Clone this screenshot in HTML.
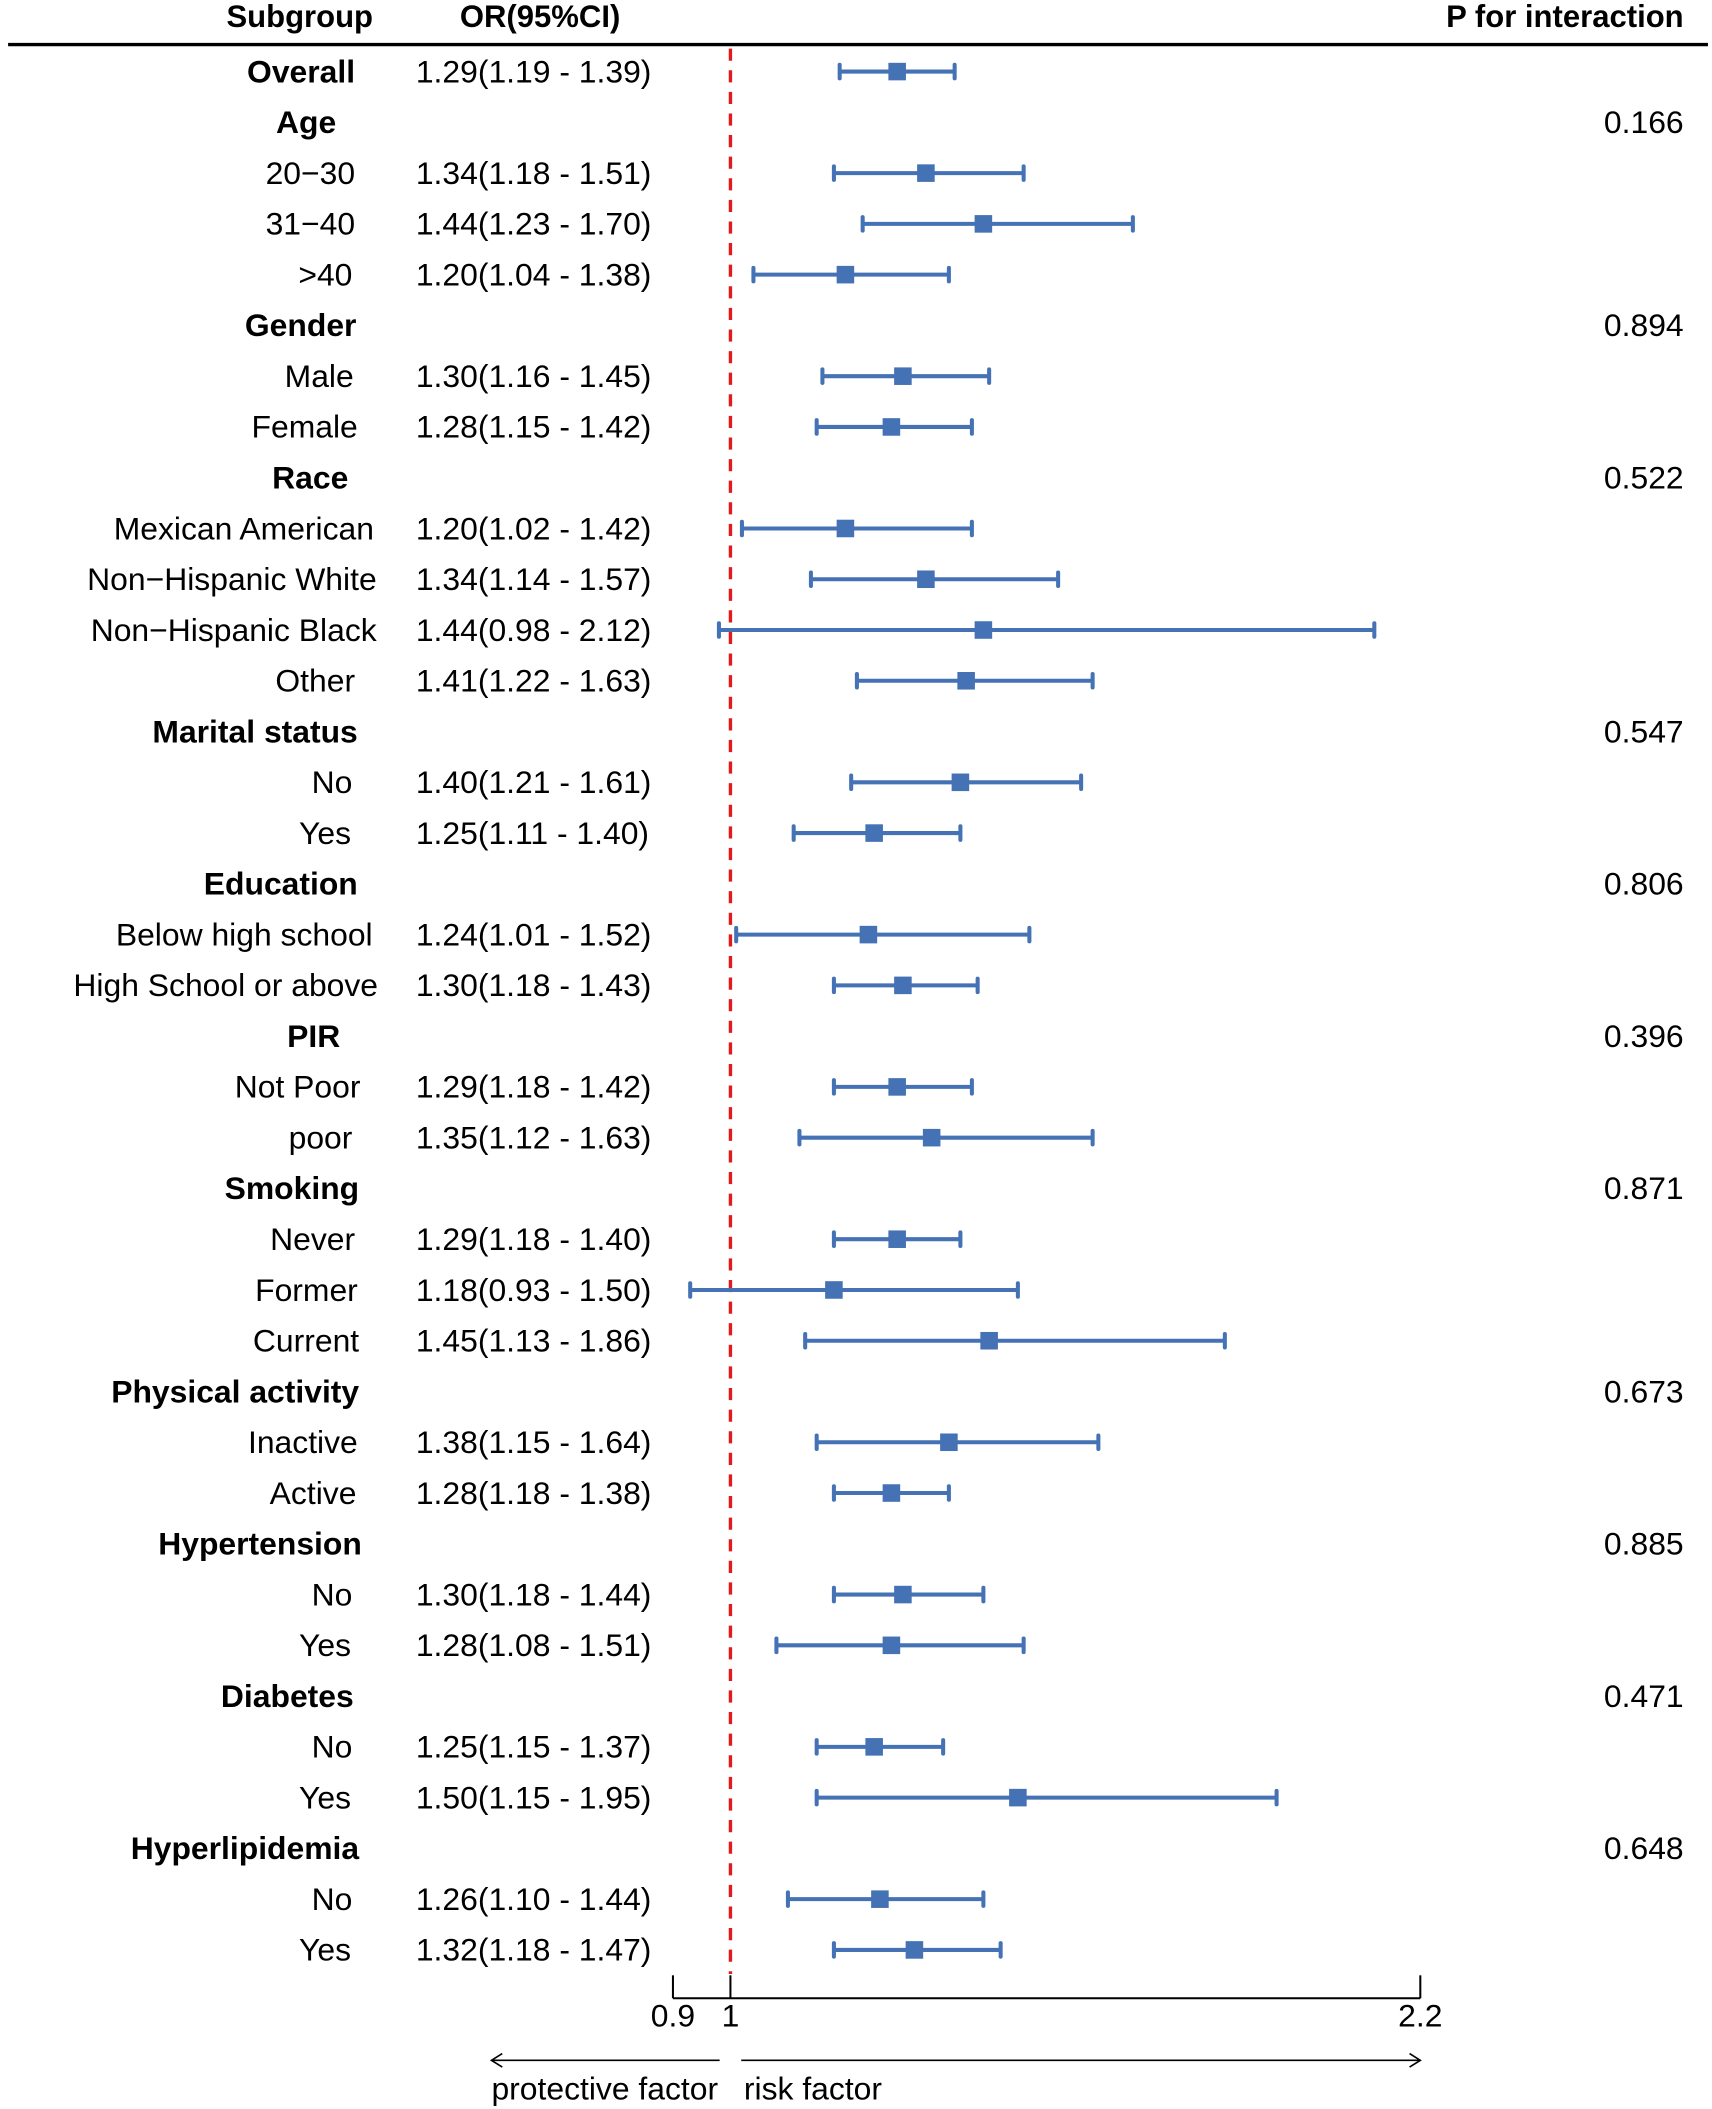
<!DOCTYPE html>
<html><head><meta charset="utf-8"><style>
html,body{margin:0;padding:0;background:#fff;}
svg{display:block;font-family:"Liberation Sans",Arial,sans-serif;}
</style></head><body>
<svg id="chart" width="1712" height="2109" viewBox="0 0 1268 1562" xmlns="http://www.w3.org/2000/svg">
<rect width="1268" height="1562" fill="#fff"/>
<g id="hdr" font-size="23" font-weight="bold">
<text x="222" y="20" text-anchor="middle">Subgroup</text>
<text x="400" y="20" text-anchor="middle">OR(95%CI)</text>
<text x="1247" y="20" text-anchor="end">P for interaction</text>
</g>
<line x1="6" y1="33" x2="1265" y2="33" stroke="#000" stroke-width="2.5"/>
<g id="rows"></g>
<g id="axis"></g>
</svg>
<script>
const labels=["Overall","Age","20−30","31−40",">40","Gender","Male","Female","Race","Mexican American","Non−Hispanic White","Non−Hispanic Black","Other","Marital status","No","Yes","Education","Below high school","High School or above","PIR","Not Poor","poor","Smoking","Never","Former","Current","Physical activity","Inactive","Active","Hypertension","No","Yes","Diabetes","No","Yes","Hyperlipidemia","No","Yes"];
const isHeader=[1,1,0,0,0,1,0,0,1,0,0,0,0,1,0,0,1,0,0,1,0,0,1,0,0,0,1,0,0,1,0,0,1,0,0,1,0,0];
const estimates=[1.29,null,1.34,1.44,1.20,null,1.30,1.28,null,1.20,1.34,1.44,1.41,null,1.40,1.25,null,1.24,1.30,null,1.29,1.35,null,1.29,1.18,1.45,null,1.38,1.28,null,1.30,1.28,null,1.25,1.50,null,1.26,1.32];
const lower=[1.19,null,1.18,1.23,1.04,null,1.16,1.15,null,1.02,1.14,0.98,1.22,null,1.21,1.11,null,1.01,1.18,null,1.18,1.12,null,1.18,0.93,1.13,null,1.15,1.18,null,1.18,1.08,null,1.15,1.15,null,1.10,1.18];
const upper=[1.39,null,1.51,1.70,1.38,null,1.45,1.42,null,1.42,1.57,2.12,1.63,null,1.61,1.40,null,1.52,1.43,null,1.42,1.63,null,1.40,1.50,1.86,null,1.64,1.38,null,1.44,1.51,null,1.37,1.95,null,1.44,1.47];
const pValues=[null,"0.166",null,null,null,"0.894",null,null,"0.522",null,null,null,null,"0.547",null,null,"0.806",null,null,"0.396",null,null,"0.871",null,null,null,"0.673",null,null,"0.885",null,null,"0.471",null,null,"0.648",null,null];
const labelEnds=[263,249,263,263,261,264,262,265,258,277,279,279,263,265,261,260,265,276,280,252,267,261,266,263,265,266,266,265,264,268,261,260,262,261,260,266,261,260];
const ticks=[0.9,1,2.2];
const NS="http://www.w3.org/2000/svg";
const FS=23.6;
const xs=v=>541+(v-1)*425.8;
const ys=i=>53+i*37.6;
function mk(tag,attrs,parent){const e=document.createElementNS(NS,tag);for(const k in attrs)e.setAttribute(k,attrs[k]);parent.appendChild(e);return e;}
const rows=document.getElementById('rows');
const C="#4472b4";
mk('line',{x1:541,y1:36,x2:541,y2:1462,stroke:"#e31a1c","stroke-width":2.5,"stroke-dasharray":"9,7"},rows);
labels.forEach((l,i)=>{
 const y=ys(i);
 const t=mk('text',{x:labelEnds[i],y:y+8,"text-anchor":"end","font-size":FS,"font-weight":isHeader[i]?"bold":"normal"},rows);
 t.textContent=l;
 
 
 if(estimates[i]!=null){
  const o=mk('text',{x:308,y:y+8,"font-size":FS},rows);
  o.textContent=estimates[i].toFixed(2)+"("+lower[i].toFixed(2)+" - "+upper[i].toFixed(2)+")";
  
  
  const g=mk('g',{},rows);
  
  
  mk('line',{x1:xs(lower[i]),x2:xs(upper[i]),y1:y,y2:y,stroke:C,"stroke-width":3},g);
  mk('line',{x1:xs(lower[i]),x2:xs(lower[i]),y1:y-5,y2:y+5,stroke:C,"stroke-width":3,"stroke-linecap":"round"},g);
  mk('line',{x1:xs(upper[i]),x2:xs(upper[i]),y1:y-5,y2:y+5,stroke:C,"stroke-width":3,"stroke-linecap":"round"},g);
  mk('rect',{x:xs(estimates[i])-6.5,y:y-6.5,width:13,height:13,fill:C},g);
 }
 if(pValues[i]){
  const p=mk('text',{x:1247,y:y+8,"text-anchor":"end","font-size":FS},rows);
  p.textContent=pValues[i];
  
  
 }
});
const ax=document.getElementById('axis');


mk('line',{x1:xs(ticks[0]),x2:xs(ticks[ticks.length-1]),y1:1480,y2:1480,stroke:"#000","stroke-width":1.5},ax);
ticks.forEach(t=>{
 mk('line',{x1:xs(t),x2:xs(t),y1:1463,y2:1480,stroke:"#000","stroke-width":1.5},ax);
 const tx=mk('text',{x:xs(t),y:1501,"text-anchor":"middle","font-size":FS},ax);
 tx.textContent=String(t);
 
 
});
mk('line',{x1:364,x2:533,y1:1526,y2:1526,stroke:"#000","stroke-width":1.2},ax);
mk('polyline',{points:"372,1521 364,1526 372,1531",fill:"none",stroke:"#000","stroke-width":1.2},ax);
mk('line',{x1:549,x2:1052,y1:1526,y2:1526,stroke:"#000","stroke-width":1.2},ax);
mk('polyline',{points:"1044,1521 1052,1526 1044,1531",fill:"none",stroke:"#000","stroke-width":1.2},ax);
const pf=mk('text',{x:364,y:1555,"font-size":FS},ax);pf.textContent="protective factor";


const rf=mk('text',{x:551,y:1555,"font-size":FS},ax);rf.textContent="risk factor";


</script>
</body></html>
